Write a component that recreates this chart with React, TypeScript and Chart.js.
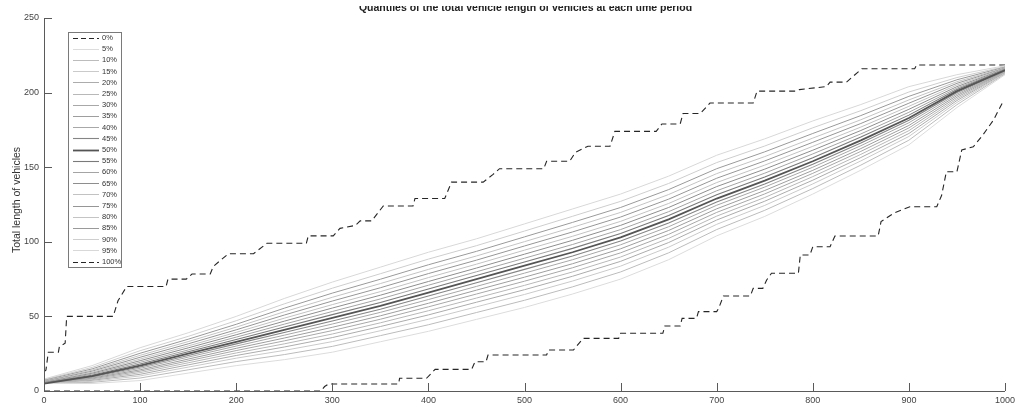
import React, { useEffect, useRef } from "react";
import { Chart, registerables } from "chart.js";

Chart.register(...registerables);

// ---------- data ----------
const chartTitle = "Quantiles of the total vehicle length of vehicles at each time period";
const yAxisTitle = "Total length of vehicles";
const xTicks = [0, 100, 200, 300, 400, 500, 600, 700, 800, 900, 1000];
const yTicks = [0, 50, 100, 150, 200, 250];

const quantileLabels = [
  "0%", "5%", "10%", "15%", "20%", "25%", "30%", "35%", "40%", "45%", "50%",
  "55%", "60%", "65%", "70%", "75%", "80%", "85%", "90%", "95%", "100%",
];

const timeSteps = [0, 50, 100, 150, 200, 250, 300, 350, 400, 450, 500, 550, 600, 650, 700, 750, 800, 850, 900, 950, 1000];

const q5 = [5, 5, 7, 12, 17, 21, 26, 33, 40, 48, 56, 65, 75, 88, 104, 117, 132, 148, 165, 190, 212];
const q10 = [5, 5.8, 8.7, 14.2, 19.7, 24.4, 29.9, 37.1, 44.4, 52.6, 60.8, 69.8, 79.8, 92.6, 108.2, 121.1, 135.7, 151.4, 168.1, 191.9, 212.5];
const q15 = [5, 6.5, 10.1, 16, 22, 27.2, 33.1, 40.4, 48.1, 56.4, 64.7, 73.7, 83.7, 96.4, 111.7, 124.4, 138.8, 154.2, 170.6, 193.4, 212.9];
const q20 = [5, 7.1, 11.2, 17.5, 23.8, 29.5, 35.8, 43.2, 51, 59.5, 67.9, 76.9, 86.9, 99.5, 114.6, 127.2, 141.3, 156.5, 172.6, 194.7, 213.3];
const q25 = [5, 7.6, 12.3, 18.9, 25.5, 31.6, 38.2, 45.7, 53.8, 62.3, 70.8, 79.8, 89.8, 102.3, 117.2, 129.7, 143.7, 158.6, 174.5, 195.8, 213.6];
const q30 = [5, 8.1, 13.3, 20.2, 27.1, 33.6, 40.5, 48.1, 56.4, 65, 73.6, 82.6, 92.6, 105, 119.7, 132.1, 145.9, 160.6, 176.3, 196.9, 213.9];
const q35 = [5, 8.6, 14.2, 21.4, 28.6, 35.5, 42.7, 50.4, 58.8, 67.6, 76.3, 85.3, 95.3, 107.6, 122.1, 134.4, 147.9, 162.5, 178, 198, 214.2];
const q40 = [5, 9.1, 15.2, 22.7, 30.1, 37.4, 44.9, 52.7, 61.3, 70.1, 79, 88, 98, 110.1, 124.5, 136.7, 150, 164.4, 179.8, 199, 214.5];
const q45 = [5, 9.5, 16.1, 23.8, 31.6, 39.2, 46.9, 54.8, 63.7, 72.6, 81.5, 90.5, 100.5, 112.6, 126.7, 138.8, 152, 166.2, 181.4, 200, 214.7];
const q50 = [5, 10, 17, 25, 33, 41, 49, 57, 66, 75, 84, 93, 103, 115, 129, 141, 154, 168, 183, 201, 215];
const q55 = [5.3, 10.6, 18.1, 26.3, 34.5, 42.9, 51.2, 59.3, 68.4, 77.4, 86.5, 95.6, 105.6, 117.6, 131.6, 143.5, 156.4, 170.2, 184.9, 202, 215.3];
const q60 = [5.5, 11.3, 19.2, 27.5, 36.1, 44.8, 53.3, 61.7, 70.9, 79.9, 89, 98.2, 108.2, 120.2, 134.2, 146, 158.9, 172.3, 186.8, 203, 215.5];
const q65 = [5.8, 11.9, 20.3, 28.9, 37.7, 46.8, 55.6, 64.2, 73.4, 82.4, 91.7, 101, 111, 123, 137, 148.7, 161.4, 174.6, 188.8, 204, 215.8];
const q70 = [6.1, 12.6, 21.4, 30.2, 39.3, 48.8, 57.9, 66.6, 76, 85, 94.4, 103.7, 113.7, 125.7, 139.7, 151.4, 164, 176.9, 190.8, 205.1, 216.1];
const q75 = [6.4, 13.3, 22.6, 31.6, 41, 50.9, 60.3, 69.2, 78.7, 87.7, 97.2, 106.6, 116.6, 128.6, 142.6, 154.2, 166.7, 179.3, 192.9, 206.2, 216.4];
const q80 = [6.7, 14, 23.9, 33.1, 42.8, 53.1, 62.8, 72, 81.5, 90.5, 100.1, 109.7, 119.7, 131.7, 145.7, 157.1, 169.5, 181.8, 195.1, 207.3, 216.7];
const q85 = [7.1, 14.8, 25.3, 34.7, 44.7, 55.5, 65.6, 74.9, 84.6, 93.6, 103.3, 113, 123, 135, 149, 160.3, 172.6, 184.6, 197.5, 208.6, 217.1];
const q90 = [7.5, 15.8, 27, 36.6, 47.1, 58.4, 68.9, 78.6, 88.4, 97.4, 107.2, 117.1, 127.1, 139.1, 153.1, 164.2, 176.4, 187.9, 200.4, 210.1, 217.5];
const q95 = [8, 17, 29, 39, 50, 62, 73, 83, 93, 102, 112, 122, 132, 144, 158, 169, 181, 192, 204, 212, 218];

// 0% quantile (minimum) as a step path
const q0X = [0, 288, 292, 296, 369, 370, 398, 407, 445, 448.5, 460, 462, 523, 525, 551, 561, 598, 600, 644, 646, 662, 664, 679, 681, 700, 702, 707, 735, 738, 748, 752, 757, 785, 787, 797, 800, 818, 823, 868, 871, 884, 901, 929, 934, 939, 950, 955, 967, 977, 988, 998];
const q0Y = [0, 0, 3, 4.7, 4.7, 8.5, 8.5, 14.5, 14.5, 19.6, 19.6, 24.1, 24.1, 27.5, 27.5, 35.3, 35.3, 38.7, 38.7, 43.6, 43.6, 48.7, 48.7, 53.2, 53.2, 55.4, 63.7, 63.7, 68.8, 68.8, 74.4, 78.9, 78.9, 91.2, 91.2, 96.7, 96.7, 103.9, 103.9, 113.5, 119.1, 123.5, 123.5, 131, 147, 147, 161.5, 163.7, 171.6, 181.6, 194];

// 100% quantile (maximum) as a step path
const q100X = [0, 2, 4.5, 15, 16, 22, 23.6, 72, 77, 86, 127, 129, 148, 154, 173, 176, 182, 192, 218, 222, 232, 273, 275, 301, 308, 324, 329, 341, 353, 384, 386, 417, 424, 457, 467, 474, 520, 523, 547, 553, 566, 589, 594, 637, 643, 662, 665, 683, 693, 738, 742, 783, 786, 814, 818, 835, 851, 906, 908, 1000];
const q100Y = [13, 14, 26, 26, 29.7, 32, 50, 50, 60.5, 70, 70, 75, 75, 78.4, 78.4, 83.3, 86.7, 92, 92, 94, 99, 99, 104, 104, 109, 111, 114, 114, 124, 124, 129, 129, 140, 140, 145, 149, 149, 154, 154, 160, 164, 164, 174, 174, 179, 179, 186, 186, 193, 193, 201, 201, 202, 204, 207, 207, 216, 216, 218.5, 218.5];

const innerQuantiles = [q5, q10, q15, q20, q25, q30, q35, q40, q45, q50, q55, q60, q65, q70, q75, q80, q85, q90, q95];

// ---------- styles ----------
const innerColors = [
  "#dcdcdc", "#bcbcbc", "#cacaca", "#acacac", "#b8b8b8", "#a8a8a8", "#9e9e9e", "#a8a8a8", "#858585",
  "#545454",
  "#7a7a7a", "#a4a4a4", "#8e8e8e", "#c2c2c2", "#969696", "#c4c4c4", "#9a9a9a", "#cecece", "#d8d8d8",
];
const innerWidths = [1, 1, 1, 1, 1, 1, 1, 1, 1.1, 1.8, 1.1, 1, 1, 1, 1, 1, 1, 1, 1];
const dashColor = "#262626";
const FONT = "'Liberation Sans', Arial, sans-serif";

const LEFT = 44;
const TOP = 18;

function buildDatasets() {
  const ds: any[] = [];
  ds.push({
    label: quantileLabels[0],
    data: q0X.map((x, i) => ({ x, y: q0Y[i] })),
    borderColor: dashColor,
    borderWidth: 1.1,
    borderDash: [6, 4],
    order: 2,
  });
  innerQuantiles.forEach((arr, k) => {
    ds.push({
      label: quantileLabels[k + 1],
      data: timeSteps.map((x, i) => ({ x, y: arr[i] })),
      borderColor: innerColors[k],
      borderWidth: innerWidths[k],
      borderDash: [],
      order: k === 9 ? 0 : 1,
    });
  });
  ds.push({
    label: quantileLabels[20],
    data: q100X.map((x, i) => ({ x, y: q100Y[i] })),
    borderColor: dashColor,
    borderWidth: 1.1,
    borderDash: [6, 4],
    order: 2,
  });
  return ds;
}

const decorPlugin = {
  id: "matlabDecor",
  afterDraw(chart: any) {
    const { ctx, chartArea, scales } = chart;
    const xs = scales.x;
    const ys = scales.y;
    ctx.save();
    // axes
    ctx.strokeStyle = "#5a5a5a";
    ctx.lineWidth = 1;
    ctx.beginPath();
    ctx.moveTo(chartArea.left + 0.5, chartArea.top);
    ctx.lineTo(chartArea.left + 0.5, chartArea.bottom + 0.5);
    ctx.lineTo(chartArea.right, chartArea.bottom + 0.5);
    ctx.stroke();
    // inward ticks
    ctx.beginPath();
    xTicks.forEach((t) => {
      const px = Math.round(xs.getPixelForValue(t)) + 0.5;
      ctx.moveTo(px, chartArea.bottom);
      ctx.lineTo(px, chartArea.bottom - 8);
    });
    yTicks.forEach((t) => {
      const py = Math.round(ys.getPixelForValue(t)) + 0.5;
      ctx.moveTo(chartArea.left, py);
      ctx.lineTo(chartArea.left + 8, py);
    });
    ctx.stroke();

    // legend box
    const bx = 68.5, by = 32.5, bw = 53, bh = 235;
    ctx.fillStyle = "#ffffff";
    ctx.fillRect(bx, by, bw, bh);
    ctx.strokeStyle = "#7a7a7a";
    ctx.lineWidth = 1;
    ctx.setLineDash([]);
    ctx.strokeRect(bx, by, bw, bh);
    ctx.font = "7.5px " + FONT;
    ctx.textBaseline = "middle";
    ctx.textAlign = "left";
    chart.data.datasets.forEach((d: any, i: number) => {
      const y = 37.5 + i * 11.2;
      ctx.strokeStyle = d.borderColor;
      ctx.lineWidth = d.borderWidth;
      ctx.setLineDash(d.borderDash && d.borderDash.length ? [5, 3] : []);
      ctx.beginPath();
      ctx.moveTo(73, Math.round(y) + 0.5);
      ctx.lineTo(99, Math.round(y) + 0.5);
      ctx.stroke();
      ctx.setLineDash([]);
      ctx.fillStyle = "#333333";
      ctx.fillText(d.label, 102, y + 0.5);
    });

    // y-axis title
    ctx.save();
    ctx.translate(17, 200);
    ctx.rotate(-Math.PI / 2);
    ctx.font = "10.5px " + FONT;
    ctx.fillStyle = "#333333";
    ctx.textAlign = "center";
    ctx.textBaseline = "middle";
    ctx.fillText(yAxisTitle, 0, 0);
    ctx.restore();

    // title (top clipped, as in the reference)
    ctx.save();
    ctx.beginPath();
    ctx.rect(0, 6, chart.width, 20);
    ctx.clip();
    ctx.font = "bold 10.5px " + FONT;
    ctx.fillStyle = "#222222";
    ctx.textAlign = "center";
    ctx.textBaseline = "alphabetic";
    ctx.fillText(chartTitle, (chartArea.left + chartArea.right) / 2 + 1, 11);
    ctx.restore();

    ctx.restore();
  },
};

export default function App() {
  const ref = useRef<HTMLCanvasElement | null>(null);
  useEffect(() => {
    if (!ref.current) return;
    const chart = new Chart(ref.current, {
      type: "line",
      data: { datasets: buildDatasets() },
      options: {
        animation: false,
        responsive: false,
        events: [],
        layout: { padding: { top: TOP, right: 15, left: 0, bottom: 0 } },
        elements: { point: { radius: 0 }, line: { tension: 0 } },
        plugins: { legend: { display: false }, tooltip: { enabled: false }, title: { display: false } },
        scales: {
          x: {
            type: "linear",
            min: 0,
            max: 1000,
            afterFit: (s: any) => { s.height = 16; },
            afterBuildTicks: (s: any) => { s.ticks = xTicks.map((v) => ({ value: v })); },
            ticks: {
              font: { size: 9, family: FONT },
              color: "#444444",
              padding: 4,
              maxRotation: 0,
              callback: (v: any) => String(v),
            },
            grid: { display: false, drawTicks: false },
            border: { display: false },
          },
          y: {
            type: "linear",
            min: 0,
            max: 250,
            afterFit: (s: any) => { s.width = LEFT; },
            afterBuildTicks: (s: any) => { s.ticks = yTicks.map((v) => ({ value: v })); },
            ticks: {
              font: { size: 9, family: FONT },
              color: "#444444",
              padding: 5,
              callback: (v: any) => String(v),
            },
            grid: { display: false, drawTicks: false },
            border: { display: false },
          },
        },
      },
      plugins: [decorPlugin],
    });
    return () => chart.destroy();
  }, []);
  return (
    <div style={{ position: "fixed", left: 0, top: 0, width: 1020, height: 407, overflow: "hidden", background: "#fff" }}>
      <canvas ref={ref} width={1020} height={407} style={{ display: "block" }} />
    </div>
  );
}
